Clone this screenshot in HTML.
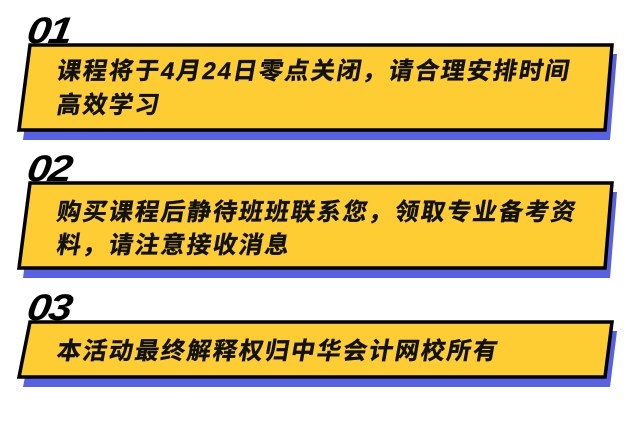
<!DOCTYPE html>
<html><head><meta charset="utf-8"><style>
body{margin:0;width:633px;height:434px;background:#fff;overflow:hidden;position:relative;font-family:"Liberation Sans","Noto Sans CJK SC",sans-serif}
svg{position:absolute;left:0;top:0}
.t{position:absolute;left:57px;font-size:24px;font-weight:bold;letter-spacing:2px;color:#111;transform:skewX(-10deg);line-height:34px;white-space:nowrap;-webkit-text-stroke:0.4px #111}
.n{position:absolute;left:30px;font-size:37px;font-weight:900;font-style:italic;color:#000;transform:scaleX(1.15) skewX(-8deg);transform-origin:left top;line-height:30px;letter-spacing:-2px}
</style></head><body>
<svg width="633" height="434">
<g fill="#5661e3">
<polygon points="34,54 617,54 610,140 23,140"/>
<polygon points="34,192 617,192 610,278 23,278"/>
<polygon points="34,331 617,331 610,387 23,387"/>
</g>
<g fill="#fdcd33" stroke="#000" stroke-width="3.5" stroke-linejoin="miter">
<polygon points="30,45 612,45 605,130 19,130"/>
<polygon points="30,183 612,183 605,268 19,268"/>
<polygon points="30,322 612,322 605,377 19,377"/>
</g>
</svg>
<div class="n" style="top:16px">01</div>
<div class="n" style="top:154px">02</div>
<div class="n" style="top:293px">03</div>
<div class="t" style="top:55px">课程将于4月24日零点关闭，请合理安排时间</div>
<div class="t" style="top:89px">高效学习</div>
<div class="t" style="top:196px">购买课程后静待班班联系您，领取专业备考资</div>
<div class="t" style="top:229px">料，请注意接收消息</div>
<div class="t" style="top:335px">本活动最终解释权归中华会计网校所有</div>
</body></html>
